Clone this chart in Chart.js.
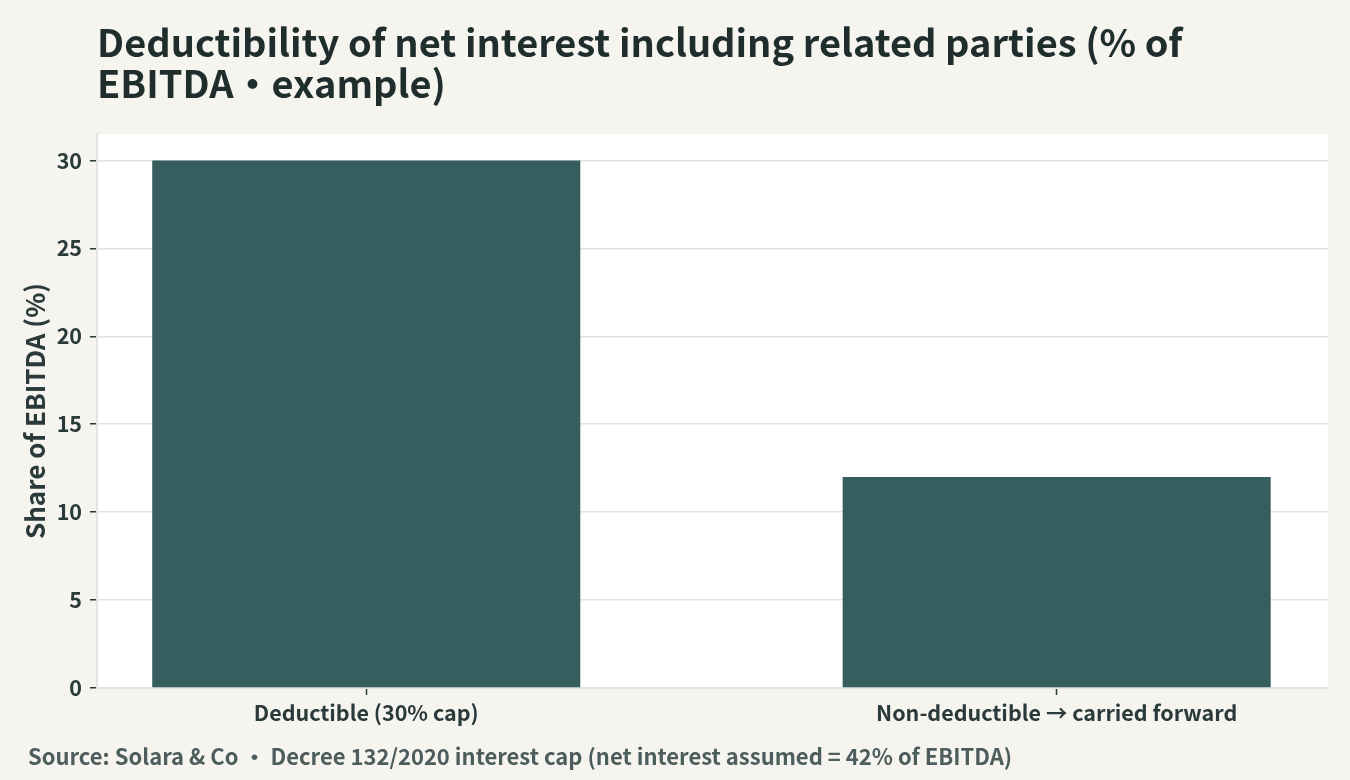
<!DOCTYPE html>
<html>
<head>
<meta charset="utf-8">
<script src="https://cdn.jsdelivr.net/npm/chart.js@4.4.1/dist/chart.umd.min.js"></script>
<style>
  html, body { margin: 0; padding: 0; background: #f5f4ef; }
  body { width: 1350px; height: 780px; position: relative; overflow: hidden; font-family: "Noto Sans CJK SC", "Noto Sans", sans-serif; }
  #title { position: absolute; left: 97px; top: 20px; font-size: 38px; font-weight: 700; line-height: 41px; color: #1f2d2d; }
  #source { position: absolute; left: 28px; top: 739px; font-size: 22px; font-weight: 700; color: #4d5d5d; }
  #chart { position: absolute; left: 0; top: 0; }
</style>
</head>
<body>
<canvas id="chart" width="1350" height="780"></canvas>
<div id="title">Deductibility of net interest including related parties (% of<br>EBITDA・example)</div>
<div id="source">Source: Solara &amp; Co · Decree 132/2020 interest cap (net interest assumed = 42% of EBITDA)</div>
<script>
// DATA
const categories = ['Deductible (30% cap)', 'Non-deductible → carried forward'];
const shares = [30, 12];
const yTicks = [0, 5, 10, 15, 20, 25, 30];

const inkColor = '#2a3a3a';
const barColor = '#375e5e';
const gridColor = '#dfe5e5';

// white plot background
const plotBg = {
    id: 'plotBg',
    beforeDraw(chart) {
        const a = chart.chartArea;
        const ctx = chart.ctx;
        ctx.save();
        ctx.fillStyle = '#ffffff';
        ctx.fillRect(a.left, a.top, a.right - a.left, a.bottom - a.top);
        ctx.restore();
    }
};

const ctx = document.getElementById('chart').getContext('2d');
new Chart(ctx, {
    type: 'bar',
    data: {
        datasets: [{
            data: categories.map((c, i) => ({ x: i, y: shares[i] })),
            backgroundColor: barColor,
            barPercentage: 0.62,
            categoryPercentage: 1
        }]
    },
    plugins: [plotBg],
    options: {
        responsive: false,
        animation: false,
        devicePixelRatio: 1,
        layout: { padding: { left: 0, right: 22, top: 134, bottom: 52 } },
        plugins: { legend: { display: false }, tooltip: { enabled: false } },
        scales: {
            x: {
                type: 'linear',
                offset: false,
                min: -0.39,
                max: 1.393,
                afterBuildTicks: s => { s.ticks = categories.map((c, i) => ({ value: i })); },
                afterFit: s => { s.height = 40; },
                border: { display: true, color: gridColor, width: 2 },
                grid: { offset: false, drawOnChartArea: false, drawTicks: true, tickLength: 7, tickColor: inkColor, tickWidth: 1.5 },
                ticks: {
                    callback: (v, i) => categories[i],
                    color: inkColor,
                    padding: 5,
                    maxRotation: 0,
                    font: { family: 'Noto Sans CJK SC', size: 21.5, weight: 'bold' }
                }
            },
            y: {
                min: 0,
                max: 31.5,
                afterBuildTicks: s => { s.ticks = yTicks.map(v => ({ value: v })); },
                afterFit: s => { s.width = 97; },
                border: { display: true, color: gridColor, width: 2 },
                grid: { color: gridColor, lineWidth: 1.5, drawTicks: true, tickLength: 7, tickColor: inkColor, tickWidth: 1.5 },
                ticks: {
                    color: inkColor,
                    padding: 8,
                    font: { family: 'Noto Sans CJK SC', size: 21.5, weight: 'bold' }
                },
                title: {
                    display: true,
                    text: 'Share of EBITDA (%)',
                    color: inkColor,
                    padding: { top: 20, bottom: 0 },
                    font: { family: 'Noto Sans CJK SC', size: 26, weight: 'bold' }
                }
            }
        }
    }
});
</script>
</body>
</html>
